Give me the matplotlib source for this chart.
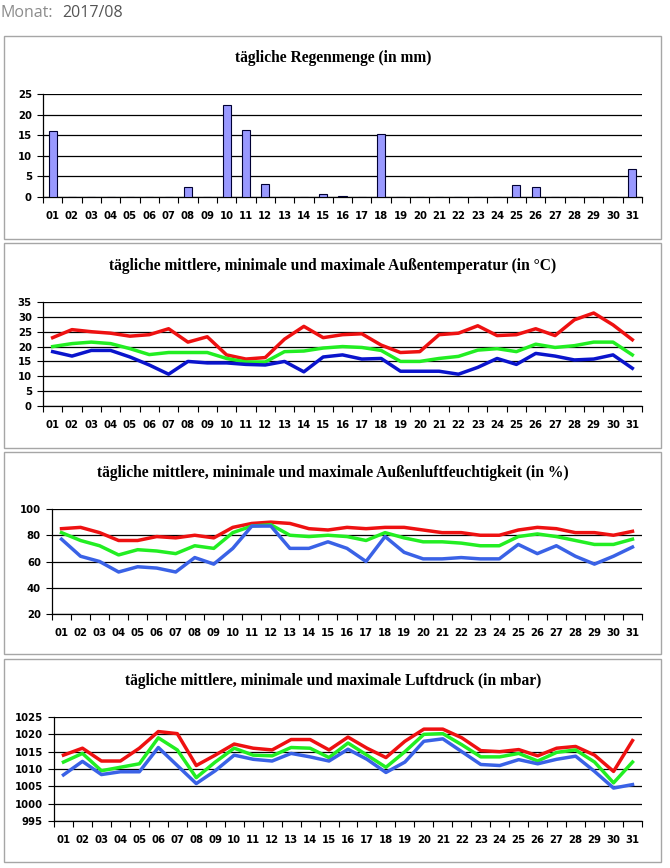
import numpy as np
import matplotlib.pyplot as plt
from matplotlib.patches import Rectangle

# Tage des Monats
days = [f"{d:02d}" for d in range(1, 32)]

# Regenmenge (mm)
rain = [16.0, 0, 0, 0, 0, 0, 0, 2.5, 0, 22.3, 16.3, 3.2, 0, 0, 0.8, 0.3, 0, 15.4,
        0, 0, 0, 0, 0, 0, 2.8, 2.5, 0, 0, 0, 0, 6.8]

# Temperatur (°C)
temp_max = [23, 25.7, 25, 24.5, 23.5, 24, 26, 21.5, 23.3, 17.2, 15.8, 16.3, 22.5, 26.8, 23,
            24, 24.3, 20.5, 18, 18.3, 24, 24.5, 27, 23.7, 24, 26, 23.7, 29, 31.3, 27.3, 22.3]
temp_avg = [20, 21, 21.5, 21, 19.3, 17.3, 18, 18, 18, 16, 14.8, 14.8, 18.3, 18.5, 19.5,
            20, 19.7, 18.7, 15, 15, 16, 16.7, 18.8, 19.3, 18.3, 20.8, 19.7, 20.3, 21.5, 21.5, 17.2]
temp_min = [18.3, 16.8, 18.7, 18.7, 16.5, 13.8, 10.7, 15, 14.5, 14.5, 14, 13.8, 15, 11.5, 16.5,
            17.2, 15.8, 16, 11.7, 11.7, 11.7, 10.7, 13, 16, 14, 17.7, 16.8, 15.5, 15.8, 17.2, 12.7]

# Luftfeuchtigkeit (%)
hum_max = [85, 86, 82, 76, 76, 79, 78, 80, 78, 86, 89, 90, 89, 85, 84, 86, 85, 86, 86, 84,
           82, 82, 80, 80, 84, 86, 85, 82, 82, 80, 83]
hum_avg = [82, 76, 72, 65, 69, 68, 66, 72, 70, 82, 87, 88, 80, 79, 80, 79, 76, 82, 78, 75,
           75, 74, 72, 72, 79, 81, 79, 76, 73, 73, 77]
hum_min = [77, 64, 60, 52, 56, 55, 52, 63, 58, 70, 87, 87, 70, 70, 75, 70, 60, 79, 67, 62,
           62, 63, 62, 62, 73, 66, 72, 64, 58, 64, 71]

# Luftdruck (mbar)
pres_max = [1014, 1016, 1012.3, 1012.3, 1016, 1020.8, 1020.2, 1011, 1014, 1017.2, 1016,
            1015.5, 1018.5, 1018.5, 1015.5, 1019.2, 1016, 1013.3, 1018, 1021.5, 1021.5,
            1019, 1015.3, 1015, 1015.6, 1013.8, 1016, 1016.5, 1014, 1009.3, 1018.2]
pres_avg = [1012, 1014.5, 1009.5, 1010.5, 1011.5, 1019, 1015.5, 1007.5, 1012, 1016, 1014,
            1013.8, 1016.2, 1016, 1013.3, 1017.5, 1014, 1010.5, 1015, 1020, 1020.2,
            1017, 1013.5, 1013.5, 1014.5, 1012.3, 1014.8, 1015.5, 1012, 1006, 1012]
pres_min = [1008.3, 1012.2, 1008.4, 1009.2, 1009.2, 1016.2, 1011, 1005.8, 1009.5, 1014,
            1012.8, 1012.3, 1014.5, 1013.5, 1012.3, 1015.7, 1012.8, 1009, 1012, 1018,
            1018.7, 1015, 1011.3, 1011, 1012.7, 1011.5, 1012.8, 1013.7, 1009.3, 1004.5, 1005.5]

W, H = 670, 868
fig = plt.figure(figsize=(W / 100, H / 100), dpi=100)

TITLE_FONT = dict(family='Liberation Serif', fontweight='bold', fontsize=11.2)
TICK_FONT = dict(family='DejaVu Sans', weight='bold', size=7.3)


def px_axes(left, right, top, bottom):
    return fig.add_axes([left / W, 1 - bottom / H, (right - left) / W, (bottom - top) / H])


def box(top, bottom, left=4, right=661):
    fig.patches.append(Rectangle((left / W, 1 - bottom / H), (right - left) / W, (bottom - top) / H,
                                 transform=fig.transFigure, fill=False,
                                 edgecolor='#a6a6a6', linewidth=1.0))


def style_axes(ax, ylim, yticks):
    x = np.arange(len(days))
    ax.set_xlim(-0.5, len(days) - 0.5)
    ax.set_ylim(*ylim)
    ax.set_yticks(yticks)
    ax.set_xticks(x)
    ax.set_xticklabels(days)
    ax.set_xticks(np.arange(-0.5, len(days)), minor=True)
    ax.tick_params(axis='x', which='major', length=0, pad=10)
    ax.tick_params(axis='x', which='minor', length=4, width=0.8, direction='out')
    ax.tick_params(axis='y', length=4, width=0.8, direction='out', pad=4)
    for lab in ax.get_xticklabels() + ax.get_yticklabels():
        lab.set_fontfamily(TICK_FONT['family'])
        lab.set_fontweight(TICK_FONT['weight'])
        lab.set_fontsize(TICK_FONT['size'])
    ax.grid(axis='y', color='black', linewidth=0.9)
    ax.set_axisbelow(True)
    for s in ['top', 'right']:
        ax.spines[s].set_visible(False)
    ax.spines['left'].set_linewidth(0.9)
    ax.spines['bottom'].set_linewidth(0.9)
    ax.patch.set_alpha(0)


# Kopfzeile
fig.text(0 / W, 1 - 13 / H, "Monat:", family='Open Sans', fontsize=11.5, color='#8c8c8c', va='center')
fig.text(62 / W, 1 - 13 / H, "2017/08", family='Open Sans', fontsize=11.5, color='#555555', va='center')

x = np.arange(len(days))

# 1. Regen
box(36, 239)
ax1 = px_axes(43, 642, 94, 197)
ax1.bar(x, rain, width=0.42, color='#9999ff', edgecolor='#000033', linewidth=0.8, zorder=3)
style_axes(ax1, (0, 25), [0, 5, 10, 15, 20, 25])
fig.text(333 / W, 1 - 58 / H, "tägliche Regenmenge (in mm)", ha='center', va='center', **TITLE_FONT)

# 2. Temperatur
box(243, 448)
ax2 = px_axes(43, 642, 302, 406)
ax2.plot(x, temp_max, color='#ee1111', lw=2.5, zorder=3)
ax2.plot(x, temp_avg, color='#22ee22', lw=2.5, zorder=3)
ax2.plot(x, temp_min, color='#0a14cc', lw=2.5, zorder=3)
style_axes(ax2, (0, 35), np.arange(0, 36, 5))
fig.text(333 / W, 1 - 266 / H, "tägliche mittlere, minimale und maximale Außentemperatur (in °C)",
         ha='center', va='center', **TITLE_FONT)

# 3. Luftfeuchtigkeit
box(452, 654)
ax3 = px_axes(52, 642, 509, 614)
ax3.plot(x, hum_max, color='#ee1111', lw=2.5, zorder=3)
ax3.plot(x, hum_avg, color='#22ee22', lw=2.5, zorder=3)
ax3.plot(x, hum_min, color='#3a62e6', lw=2.5, zorder=3)
style_axes(ax3, (20, 100), np.arange(20, 101, 20))
fig.text(333 / W, 1 - 473 / H, "tägliche mittlere, minimale und maximale Außenluftfeuchtigkeit (in %)",
         ha='center', va='center', **TITLE_FONT)

# 4. Luftdruck
box(659, 862)
ax4 = px_axes(54, 642, 717, 821)
ax4.plot(x, pres_max, color='#ee1111', lw=2.5, zorder=3)
ax4.plot(x, pres_avg, color='#22ee22', lw=2.5, zorder=3)
ax4.plot(x, pres_min, color='#3a62e6', lw=2.5, zorder=3)
style_axes(ax4, (995, 1025), np.arange(995, 1026, 5))
fig.text(333 / W, 1 - 681 / H, "tägliche mittlere, minimale und maximale Luftdruck (in mbar)",
         ha='center', va='center', **TITLE_FONT)

fig.savefig("out.png", dpi=100)
